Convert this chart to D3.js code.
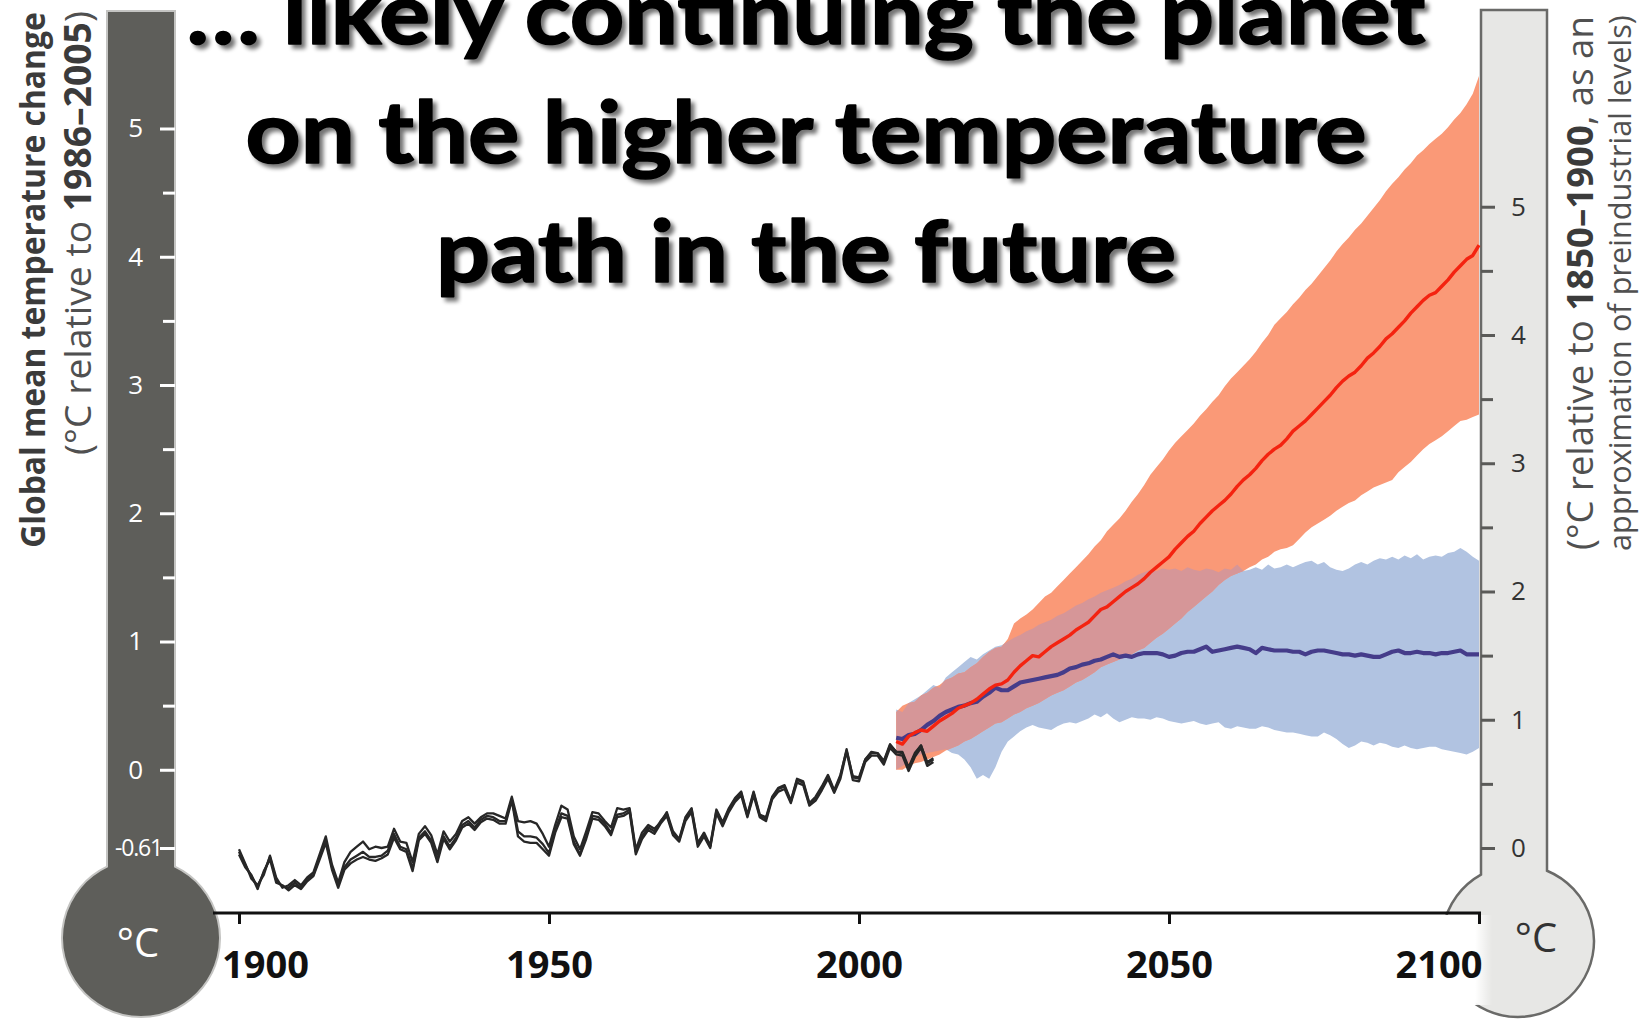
<!DOCTYPE html>
<html>
<head>
<meta charset="utf-8">
<script src="https://cdnjs.cloudflare.com/ajax/libs/d3/7.8.5/d3.min.js"></script>
<style>
  html, body { margin: 0; padding: 0; background: #fff; }
  svg { display: block; }
</style>
</head>
<body>
<svg id="chart" width="1650" height="1020"></svg>
<script>
// ---------------- data ----------------
// Observed global mean temperature anomaly (°C relative to 1986–2005), three datasets
const histYears = d3.range(1900, 2013);
const obsA = [
  -0.64,-0.74,-0.83,-0.91,-0.80,-0.68,-0.86,-0.91,-0.92,-0.88,
  -0.92,-0.85,-0.82,-0.68,-0.55,-0.76,-0.90,-0.76,-0.70,-0.67,
  -0.64,-0.68,-0.68,-0.67,-0.63,-0.50,-0.60,-0.62,-0.77,-0.53,
  -0.48,-0.55,-0.70,-0.52,-0.60,-0.53,-0.43,-0.40,-0.45,-0.39,
  -0.36,-0.37,-0.40,-0.40,-0.23,-0.48,-0.52,-0.52,-0.53,-0.58,
  -0.65,-0.47,-0.34,-0.36,-0.56,-0.66,-0.52,-0.36,-0.37,-0.42,
  -0.49,-0.35,-0.34,-0.31,-0.64,-0.52,-0.45,-0.48,-0.40,-0.34,
  -0.50,-0.55,-0.38,-0.31,-0.58,-0.50,-0.60,-0.32,-0.42,-0.31,
  -0.23,-0.18,-0.36,-0.18,-0.36,-0.38,-0.22,-0.15,-0.13,-0.25,
  -0.08,-0.10,-0.27,-0.22,-0.14,-0.05,-0.17,-0.05, 0.16,-0.06,
  -0.07, 0.08, 0.13, 0.13, 0.06, 0.19, 0.14, 0.13, 0.01, 0.12,
   0.19, 0.05, 0.08
];
const obsB = [
  -0.62,-0.73,-0.85,-0.90,-0.82,-0.67,-0.84,-0.92,-0.90,-0.86,
  -0.90,-0.84,-0.80,-0.66,-0.52,-0.74,-0.88,-0.72,-0.64,-0.60,
  -0.56,-0.62,-0.60,-0.61,-0.60,-0.46,-0.56,-0.57,-0.72,-0.50,
  -0.44,-0.51,-0.66,-0.48,-0.56,-0.50,-0.40,-0.37,-0.42,-0.37,
  -0.34,-0.34,-0.36,-0.38,-0.21,-0.40,-0.41,-0.40,-0.42,-0.50,
  -0.60,-0.43,-0.28,-0.31,-0.52,-0.62,-0.48,-0.33,-0.34,-0.40,
  -0.45,-0.30,-0.31,-0.30,-0.62,-0.49,-0.43,-0.46,-0.41,-0.33,
  -0.48,-0.54,-0.37,-0.30,-0.57,-0.49,-0.59,-0.31,-0.41,-0.30,
  -0.22,-0.17,-0.35,-0.17,-0.35,-0.37,-0.21,-0.14,-0.12,-0.24,
  -0.07,-0.09,-0.26,-0.21,-0.13,-0.04,-0.16,-0.04, 0.15,-0.05,
  -0.06, 0.08, 0.14, 0.13, 0.07, 0.20, 0.14, 0.14, 0.02, 0.13,
   0.19, 0.06, 0.09
];
const obsC = [
  -0.66,-0.76,-0.82,-0.93,-0.79,-0.70,-0.88,-0.90,-0.94,-0.90,
  -0.93,-0.87,-0.83,-0.70,-0.57,-0.78,-0.92,-0.78,-0.73,-0.70,
  -0.68,-0.70,-0.71,-0.69,-0.66,-0.53,-0.62,-0.64,-0.79,-0.55,
  -0.50,-0.57,-0.72,-0.54,-0.62,-0.55,-0.45,-0.42,-0.47,-0.41,
  -0.38,-0.39,-0.42,-0.42,-0.24,-0.52,-0.56,-0.57,-0.57,-0.62,
  -0.67,-0.49,-0.37,-0.38,-0.58,-0.67,-0.54,-0.38,-0.39,-0.44,
  -0.51,-0.37,-0.36,-0.33,-0.66,-0.54,-0.47,-0.50,-0.42,-0.36,
  -0.51,-0.56,-0.40,-0.33,-0.60,-0.52,-0.61,-0.34,-0.44,-0.33,
  -0.25,-0.20,-0.37,-0.20,-0.37,-0.40,-0.23,-0.17,-0.15,-0.26,
  -0.10,-0.12,-0.28,-0.24,-0.16,-0.07,-0.18,-0.07, 0.14,-0.08,
  -0.09, 0.06, 0.11, 0.11, 0.04, 0.17, 0.12, 0.11,-0.01, 0.10,
   0.17, 0.03, 0.06
];

// Projections 2006–2100: high-emission (RCP8.5) and low-emission (RCP2.6) scenarios
const projYears = d3.range(2006, 2101);
const rcp85Mean = [
  0.22,0.20,0.26,0.29,0.31,0.30,0.34,0.38,0.41,0.44,
  0.48,0.50,0.52,0.55,0.59,0.63,0.66,0.67,0.70,0.76,
  0.81,0.85,0.89,0.88,0.92,0.96,0.99,1.02,1.05,1.09,
  1.12,1.15,1.20,1.25,1.27,1.31,1.35,1.39,1.42,1.45,
  1.49,1.54,1.58,1.62,1.66,1.72,1.77,1.82,1.86,1.92,
  1.97,2.02,2.06,2.10,2.15,2.21,2.26,2.30,2.35,2.41,
  2.46,2.50,2.53,2.58,2.64,2.68,2.72,2.77,2.82,2.87,
  2.92,2.98,3.03,3.07,3.10,3.15,3.21,3.25,3.30,3.36,
  3.40,3.45,3.50,3.56,3.61,3.66,3.70,3.72,3.77,3.82,
  3.88,3.93,3.98,4.01,4.09
];
const rcp85High = [
  0.45,0.50,0.52,0.53,0.58,0.60,0.64,0.66,0.70,0.72,
  0.75,0.76,0.80,0.83,0.88,0.92,0.95,0.96,1.02,1.14,
  1.18,1.21,1.25,1.30,1.35,1.38,1.43,1.48,1.53,1.58,
  1.63,1.68,1.74,1.79,1.86,1.91,1.96,2.02,2.09,2.15,
  2.22,2.30,2.36,2.42,2.49,2.55,2.60,2.65,2.70,2.76,
  2.81,2.87,2.92,2.99,3.05,3.10,3.15,3.20,3.26,3.33,
  3.39,3.47,3.52,3.57,3.63,3.68,3.74,3.79,3.85,3.91,
  3.97,4.04,4.10,4.15,4.21,4.26,4.32,4.38,4.44,4.51,
  4.57,4.62,4.68,4.73,4.79,4.83,4.88,4.92,4.96,5.01,
  5.07,5.12,5.19,5.27,5.41
];
const rcp85Low = [
  0.00,0.00,0.03,0.05,0.06,0.08,0.10,0.12,0.15,0.17,
  0.19,0.22,0.24,0.27,0.30,0.33,0.36,0.37,0.40,0.43,
  0.45,0.48,0.50,0.52,0.55,0.58,0.60,0.62,0.65,0.68,
  0.70,0.73,0.76,0.80,0.82,0.84,0.86,0.88,0.90,0.93,
  0.95,0.99,1.03,1.06,1.10,1.14,1.18,1.23,1.27,1.31,
  1.35,1.39,1.44,1.48,1.51,1.53,1.55,1.58,1.60,1.64,
  1.66,1.70,1.72,1.73,1.75,1.80,1.85,1.89,1.92,1.95,
  1.98,2.02,2.05,2.08,2.10,2.14,2.17,2.20,2.22,2.24,
  2.26,2.32,2.36,2.40,2.45,2.50,2.54,2.57,2.60,2.64,
  2.68,2.72,2.73,2.75,2.77
];
const rcp26Mean = [
  0.25,0.24,0.27,0.28,0.31,0.35,0.38,0.42,0.45,0.47,
  0.49,0.50,0.52,0.53,0.57,0.60,0.64,0.62,0.62,0.65,
  0.68,0.69,0.70,0.71,0.72,0.73,0.74,0.76,0.79,0.80,
  0.82,0.83,0.85,0.86,0.88,0.90,0.88,0.89,0.88,0.90,
  0.91,0.91,0.91,0.90,0.88,0.89,0.91,0.92,0.92,0.94,
  0.96,0.92,0.93,0.94,0.95,0.96,0.95,0.94,0.91,0.95,
  0.94,0.93,0.93,0.93,0.92,0.92,0.90,0.92,0.93,0.93,
  0.92,0.91,0.90,0.90,0.89,0.90,0.89,0.88,0.88,0.90,
  0.92,0.93,0.91,0.91,0.92,0.91,0.91,0.90,0.91,0.91,
  0.92,0.93,0.90,0.90,0.90
];
const rcp26High = [
  0.47,0.45,0.52,0.55,0.58,0.62,0.66,0.64,0.72,0.76,
  0.80,0.84,0.88,0.86,0.90,0.93,0.96,0.97,1.00,1.03,
  1.05,1.08,1.10,1.13,1.15,1.17,1.20,1.22,1.25,1.28,
  1.30,1.33,1.35,1.38,1.40,1.42,1.44,1.47,1.49,1.52,
  1.54,1.56,1.55,1.57,1.56,1.57,1.55,1.58,1.56,1.55,
  1.57,1.56,1.54,1.57,1.56,1.60,1.55,1.56,1.58,1.56,
  1.60,1.57,1.58,1.60,1.58,1.60,1.62,1.63,1.60,1.62,
  1.58,1.56,1.55,1.57,1.60,1.62,1.60,1.63,1.65,1.64,
  1.66,1.64,1.67,1.65,1.68,1.64,1.66,1.67,1.66,1.69,
  1.70,1.73,1.70,1.66,1.63
];
const rcp26Low = [
  0.00,0.03,0.06,0.10,0.12,0.13,0.14,0.15,0.16,0.13,
  0.12,0.08,0.02,-0.07,-0.04,-0.07,0.02,0.14,0.22,0.26,
  0.30,0.33,0.35,0.33,0.32,0.31,0.34,0.36,0.37,0.36,
  0.38,0.40,0.43,0.41,0.44,0.40,0.37,0.39,0.41,0.40,
  0.40,0.39,0.41,0.40,0.38,0.37,0.36,0.37,0.38,0.36,
  0.35,0.36,0.37,0.33,0.32,0.34,0.33,0.32,0.32,0.34,
  0.33,0.31,0.30,0.29,0.29,0.28,0.27,0.26,0.26,0.29,
  0.27,0.24,0.20,0.17,0.19,0.22,0.21,0.19,0.21,0.20,
  0.18,0.17,0.19,0.17,0.16,0.17,0.18,0.18,0.16,0.15,
  0.14,0.13,0.12,0.14,0.17
];

// Axis ticks and labels
const yearTicks = [1900, 1950, 2000, 2050, 2100];
const leftMajorTicks = [-0.61, 0, 1, 2, 3, 4, 5];
const leftMinorTicks = [0.5, 1.5, 2.5, 3.5, 4.5];
const rightMajorTicks = [0, 1, 2, 3, 4, 5];
const rightMinorTicks = [0.5, 1.5, 2.5, 3.5, 4.5];
const titleLines = ["\u2026 likely continuing the planet", "on the higher temperature", "path in the future"];

// ---------------- drawing ----------------
const svg = d3.select('#chart');
const defs = svg.append('defs');

const x = d3.scaleLinear().domain([1900, 2100]).range([239, 1479]);
const y = d3.scaleLinear().domain([-0.61, 5]).range([848, 128.5]);
// same vertical scale, re-based to 1850–1900 (offset 0.61 °C)
const yPre = d3.scaleLinear().domain([0, 5.61]).range([848, 128.5]);

// drop shadow for the headline
const sh = defs.append('filter').attr('id', 'shadow')
  .attr('x', '-5%').attr('y', '-30%').attr('width', '115%').attr('height', '170%');
sh.append('feGaussianBlur').attr('in', 'SourceAlpha').attr('stdDeviation', 2.2).attr('result', 'blur');
sh.append('feOffset').attr('in', 'blur').attr('dx', 3.5).attr('dy', 3.5).attr('result', 'off');
sh.append('feComponentTransfer').attr('in', 'off').attr('result', 'soft')
  .append('feFuncA').attr('type', 'linear').attr('slope', 0.55);
const merge = sh.append('feMerge');
merge.append('feMergeNode').attr('in', 'soft');
merge.append('feMergeNode').attr('in', 'SourceGraphic');

// fade behind the 2100 label
const fade = defs.append('linearGradient').attr('id', 'fade').attr('x1', '0').attr('x2', '1');
fade.append('stop').attr('offset', '0').attr('stop-color', '#fff').attr('stop-opacity', 1);
fade.append('stop').attr('offset', '0.72').attr('stop-color', '#fff').attr('stop-opacity', 1);
fade.append('stop').attr('offset', '1').attr('stop-color', '#fff').attr('stop-opacity', 0);

// thermometer outline: tube plus round bulb
function thermometer(x0, x1, top, cx, cy, r) {
  const j0 = cy - Math.sqrt(r * r - (x0 - cx) * (x0 - cx));
  const j1 = cy - Math.sqrt(r * r - (x1 - cx) * (x1 - cx));
  return `M${x0},${top}L${x0},${j0}A${r},${r} 0 1 0 ${x1},${j1}L${x1},${top}Z`;
}

svg.append('path')
  .attr('d', thermometer(107, 175, 11, 141, 938, 79))
  .attr('fill', '#5e5e5a').attr('stroke', '#c4c4c2').attr('stroke-width', 2);

svg.append('path')
  .attr('d', thermometer(1481, 1547, 10, 1518, 941, 76))
  .attr('fill', '#e7e7e5').attr('stroke', '#6a6a68').attr('stroke-width', 2.5);

// projection ranges
const band = (lo, hi) => d3.area()
  .x((d, i) => x(projYears[i]))
  .y0((d, i) => y(lo[i]))
  .y1((d, i) => y(hi[i]))(projYears);

const blueBand = band(rcp26Low, rcp26High);
const redBand = band(rcp85Low, rcp85High);

defs.append('clipPath').attr('id', 'clipBlue').append('path').attr('d', blueBand);

svg.append('path').attr('d', blueBand).attr('fill', '#b1c3e1');
svg.append('path').attr('d', redBand).attr('fill', '#fa9977');
svg.append('path').attr('d', redBand).attr('fill', '#d69698').attr('clip-path', 'url(#clipBlue)');

// observations
const histLine = d3.line().x((d, i) => x(histYears[i])).y(d => y(d));
[obsB, obsC, obsA].forEach(s => {
  svg.append('path').attr('d', histLine(s))
    .attr('fill', 'none').attr('stroke', '#272727').attr('stroke-width', 2.3)
    .attr('stroke-linejoin', 'round');
});

// scenario means
const projLine = d3.line().x((d, i) => x(projYears[i])).y(d => y(d));
svg.append('path').attr('d', projLine(rcp26Mean))
  .attr('fill', 'none').attr('stroke', '#453c8a').attr('stroke-width', 4.2).attr('stroke-linejoin', 'round');
svg.append('path').attr('d', projLine(rcp85Mean))
  .attr('fill', 'none').attr('stroke', '#f42310').attr('stroke-width', 3.4).attr('stroke-linejoin', 'round');

// time axis
svg.append('rect').attr('x', 1432).attr('y', 915).attr('width', 60).attr('height', 90).attr('fill', 'url(#fade)');
svg.append('line').attr('x1', 213).attr('x2', 1481).attr('y1', 913).attr('y2', 913)
  .attr('stroke', '#111').attr('stroke-width', 3);
const xAx = svg.append('g').attr('transform', 'translate(0,913)')
  .call(d3.axisBottom(x).tickValues(yearTicks).tickSize(11).tickFormat(d3.format('d')));
xAx.select('.domain').remove();
xAx.selectAll('line').attr('stroke', '#111').attr('stroke-width', 3);
xAx.selectAll('text')
  .attr('y', 65).attr('dy', 0).attr('fill', '#111')
  .style('font-family', '"Open Sans", sans-serif').style('font-weight', 700).style('font-size', '38px')
  .each(function (d) {
    if (d === 1900) d3.select(this).attr('dx', 26);
    if (d === 2100) d3.select(this).attr('text-anchor', 'end').attr('dx', 3);
  });

// left thermometer scale (relative to 1986–2005)
const lMinor = svg.append('g').attr('transform', 'translate(175,0)')
  .call(d3.axisLeft(y).tickValues(leftMinorTicks).tickSize(12).tickFormat(''));
lMinor.select('.domain').remove();
lMinor.selectAll('line').attr('stroke', '#fff').attr('stroke-width', 3);

const lMajor = svg.append('g').attr('transform', 'translate(175,0)')
  .call(d3.axisLeft(y).tickValues(leftMajorTicks).tickSize(15).tickPadding(17)
    .tickFormat(d => d === -0.61 ? '-0.61' : d3.format('d')(d)));
lMajor.select('.domain').remove();
lMajor.selectAll('line').attr('stroke', '#fff').attr('stroke-width', 3);
lMajor.selectAll('text').attr('fill', '#fff')
  .style('font-family', '"Open Sans", sans-serif').style('font-size', '26px')
  .each(function (d) {
    if (d === -0.61) {
      d3.select(this).attr('x', -13).style('font-size', '23px').style('letter-spacing', '-1.2px');
    }
  });

// right thermometer scale (relative to 1850–1900)
const rMinor = svg.append('g').attr('transform', 'translate(1481,0)')
  .call(d3.axisRight(yPre).tickValues(rightMinorTicks).tickSize(12).tickFormat(''));
rMinor.select('.domain').remove();
rMinor.selectAll('line').attr('stroke', '#5a5a58').attr('stroke-width', 3);

const rMajor = svg.append('g').attr('transform', 'translate(1481,0)')
  .call(d3.axisRight(yPre).tickValues(rightMajorTicks).tickSize(14).tickPadding(16).tickFormat(d3.format('d')));
rMajor.select('.domain').remove();
rMajor.selectAll('line').attr('stroke', '#5a5a58').attr('stroke-width', 3);
rMajor.selectAll('text').attr('fill', '#333')
  .style('font-family', '"Open Sans", sans-serif').style('font-size', '26px');

// bulb units
svg.append('text').attr('x', 138).attr('y', 957).attr('text-anchor', 'middle')
  .attr('fill', '#fff').style('font-family', '"Open Sans", sans-serif').style('font-size', '40px').text('°C');
svg.append('text').attr('x', 1536).attr('y', 952).attr('text-anchor', 'middle')
  .attr('fill', '#333').style('font-family', '"Open Sans", sans-serif').style('font-size', '40px').text('°C');

// vertical axis titles; font size is fitted so each line spans its target length
const font = '"Open Sans", sans-serif';
function fitText(sel, size, target) {
  sel.style('font-size', size + 'px');
  const len = sel.node().getComputedTextLength();
  sel.style('font-size', (size * target / len).toFixed(2) + 'px');
}

// the bold title keeps its height and is condensed along its length instead
const l1 = svg.append('text')
  .attr('text-anchor', 'middle').attr('fill', '#3b3b3b')
  .style('font-family', font).style('font-weight', 700).style('font-size', '34px')
  .text('Global mean temperature change');
const l1Len = l1.node().getComputedTextLength();
l1.attr('transform', `translate(45,280) rotate(-90) scale(${(536 / l1Len).toFixed(4)},1)`);

const l2 = svg.append('text').attr('transform', 'translate(91,233) rotate(-90)')
  .attr('text-anchor', 'middle').attr('fill', '#505050')
  .style('font-family', font);
l2.append('tspan').text('(°C relative to ');
l2.append('tspan').style('font-weight', 700).attr('fill', '#3b3b3b').text('1986–2005');
l2.append('tspan').text(')');
fitText(l2, 29, 444);

const r1 = svg.append('text').attr('transform', 'translate(1593,283) rotate(-90)')
  .attr('text-anchor', 'middle').attr('fill', '#505050')
  .style('font-family', font);
r1.append('tspan').text('(°C relative to ');
r1.append('tspan').style('font-weight', 700).attr('fill', '#3b3b3b').text('1850–1900');
r1.append('tspan').text(', as an');
fitText(r1, 29, 534);

const r2 = svg.append('text').attr('transform', 'translate(1631,283) rotate(-90)')
  .attr('text-anchor', 'middle').attr('fill', '#505050')
  .style('font-family', font)
  .text('approximation of preindustrial levels)');
fitText(r2, 29, 536);

// headline
const titleY = [44, 163, 282];
const titleW = [1239, 1121, 740];
const title = svg.append('g').attr('filter', 'url(#shadow)');
titleLines.forEach((t, i) => {
  title.append('text')
    .attr('x', 806).attr('y', titleY[i]).attr('text-anchor', 'middle')
    .attr('textLength', titleW[i]).attr('lengthAdjust', 'spacingAndGlyphs')
    .attr('fill', '#000').attr('stroke', '#000').attr('stroke-width', 1.6).attr('stroke-linejoin', 'round')
    .style('font-family', 'Lato, "Open Sans", sans-serif').style('font-weight', 700).style('font-size', '86px')
    .text(t);
});
</script>
</body>
</html>
